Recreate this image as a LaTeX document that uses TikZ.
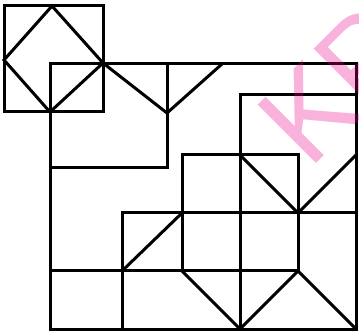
\documentclass[tikz,border=0pt]{standalone}
\usepackage{fontspec}
\newfontfamily\markfont{Liberation Sans}
\usetikzlibrary{calc}

\begin{document}
\begin{tikzpicture}[
  x=1pt, y=-1pt,
  edge/.style={draw, line width=3pt, line join=miter, line cap=rect},
  stamp/.style={text=magenta, opacity=0.3, rotate=45, anchor=base west, inner sep=0pt,
    font=\markfont\fontsize{120}{120}\selectfont}
  ]
  \useasboundingbox (0,0) rectangle (359,331);
  % corner points
  \coordinate (sq1) at (4,6);
  \coordinate (sq2) at (103,112);
  \coordinate (big1) at (50,64);
  \coordinate (big2) at (356,329);
  \coordinate (vtip) at (167,113);
  \coordinate (mid) at (298,213);
  % top-left square with diamond
  \draw[edge] (sq1) rectangle (sq2);
  \draw[edge] (52,6) -- (4,60) -- (50,112) -- (103,63) -- cycle;
  % outer frame
  \draw[edge] (big1) rectangle (big2);
  \draw[edge] (103,63) -- (vtip) -- (222,64);
  \draw[edge] (167,64) -- (167,168) -- (50,168);
  \draw[edge] (356,95) -- (240,95) -- (240,329);
  % middle block
  \draw[edge] (182,271) -- (182,155) -- (298,155) -- (298,271);
  \draw[edge] (240,155) -- (mid) -- (356,155);
  \draw[edge] (122,329) -- (122,213) -- (356,213);
  \draw[edge] (122,271) -- (182,213);
  \draw[edge] (50,271) -- (298,271);
  % bottom zigzag
  \draw[edge] (182,271) -- (240,329) -- (298,271) -- (356,329);
  % watermark
  \begin{scope}
  \clip (0,0) rectangle (359,331);
  \node[stamp] (mark) at (309,171) {KP};
  \end{scope}
\end{tikzpicture}
\end{document}
